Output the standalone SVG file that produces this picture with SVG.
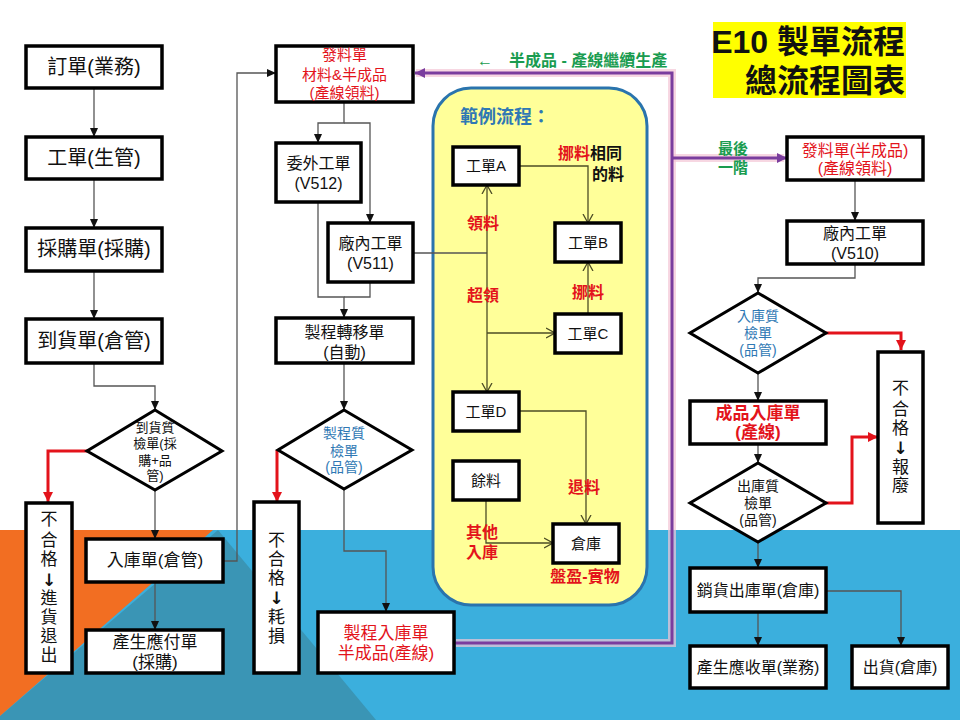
<svg xmlns="http://www.w3.org/2000/svg" width="960" height="720" viewBox="0 0 960 720">
<style>
text{font-family:'Liberation Sans','Noto Sans CJK TC',sans-serif;text-anchor:middle;fill:#111}
.box{fill:#fff;stroke:#000;stroke-width:3.5}
.dia{fill:#fff;stroke:#000;stroke-width:3}
.ybox{fill:#fff;stroke:#000;stroke-width:3.5}
.c{fill:none;stroke:#555;stroke-width:1.3}
.cy{fill:none;stroke:#4d4d26;stroke-width:1.3}
.cr{fill:none;stroke:#e3131b;stroke-width:3}
.cp{fill:none;stroke:#7a3d9e;stroke-width:3}
.glow{fill:none;stroke:#f3c6d6;stroke-width:8;opacity:.7}
.f20{font-size:20px}
.f17{font-size:17px}
.f16{font-size:16px}
.f15{font-size:15px}
.f14{font-size:14px}
.f13{font-size:13px}
.arw{font-size:17px;font-weight:bold;font-family:'DejaVu Sans',sans-serif}
.red{fill:#e3131b}
.blue{fill:#2f78b4}
.green{fill:#1a9c50;font-weight:bold}
.rb{fill:#e3131b;font-weight:bold;font-size:16px}
</style>
<defs>
<marker id="ah" markerWidth="10" markerHeight="10" refX="9" refY="5" orient="auto" markerUnits="userSpaceOnUse"><path d="M0,1 L9,5 L0,9 z" fill="#111"/></marker>
<marker id="ar" markerWidth="12" markerHeight="12" refX="10" refY="6" orient="auto" markerUnits="userSpaceOnUse"><path d="M0,1 L10,6 L0,11 z" fill="#e3131b"/></marker>
<marker id="ap" markerWidth="12" markerHeight="12" refX="10" refY="6" orient="auto" markerUnits="userSpaceOnUse"><path d="M0,1 L10,6 L0,11 z" fill="#7a3d9e"/></marker>
<marker id="ao" markerWidth="10" markerHeight="12" refX="9" refY="6" orient="auto" markerUnits="userSpaceOnUse"><path d="M0,1 L9,6 L0,11" fill="none" stroke="#4d4d26" stroke-width="1.3"/></marker>
</defs>

<!-- background -->
<rect x="0" y="0" width="960" height="720" fill="#fff"/>
<rect x="0" y="530" width="960" height="190" fill="#3bafdd"/>
<polygon points="218,530 376,720 0,720 0,716" fill="#3a95b5"/>
<polygon points="0,530 213,530 0,716" fill="#f26e22"/>

<!-- title -->
<g id="title">
<rect x="713" y="22" width="193" height="76" fill="#ffff00"/>
<text x="905" y="53" style="font-size:32px;font-weight:bold;text-anchor:end">E10 製單流程</text>
<text x="905" y="92" style="font-size:32px;font-weight:bold;text-anchor:end">總流程圖表</text>
</g>

<!-- yellow example area -->
<g id="example">
<rect x="433" y="88" width="214" height="517" rx="38" fill="#ffff99" stroke="#2a74ad" stroke-width="3"/>
<text x="460" y="123" style="font-size:18px;font-weight:bold;text-anchor:start" class="blue">範例流程：</text>
</g>

<!-- connectors -->
<g id="connectors">
<path class="c" d="M94,88 V137" marker-end="url(#ah)"/>
<path class="c" d="M94,179 V228" marker-end="url(#ah)"/>
<path class="c" d="M94,271 V319" marker-end="url(#ah)"/>
<path class="c" d="M94,363 V386 H155 V410" marker-end="url(#ah)"/>
<path class="c" d="M155,490 V539" marker-end="url(#ah)"/>
<path class="c" d="M155,582 V630" marker-end="url(#ah)"/>
<path class="c" d="M223,561 H237 V73 H276" marker-end="url(#ah)"/>
<path class="cr" d="M87,451 H48 V502" marker-end="url(#ar)"/>
<path class="c" d="M344,102 V123 H318 V143" marker-end="url(#ah)"/>
<path class="c" d="M344,123 H370 V223" marker-end="url(#ah)"/>
<path class="c" d="M318,202 V297 H344 V318" marker-end="url(#ah)"/>
<path class="c" d="M370,282 V297 H344"/>
<path class="c" d="M344,363 V410" marker-end="url(#ah)"/>
<path class="cr" d="M277,450 V502" marker-end="url(#ar)"/>
<path class="c" d="M344,489 V551 H386 V612" marker-end="url(#ah)"/>
<path class="c" d="M413,253 H487"/>
<path class="cy" d="M487,253 V185" marker-end="url(#ao)"/>
<path class="cy" d="M487,253 V392" marker-end="url(#ao)"/>
<path class="cy" d="M487,333 H555" marker-end="url(#ao)"/>
<path class="cy" d="M519,166 H588 V223" marker-end="url(#ao)"/>
<path class="cy" d="M588,314 V262" marker-end="url(#ao)"/>
<path class="cy" d="M519,411 H586 V524" marker-end="url(#ao)"/>
<path class="cy" d="M486,500 V543 H553" marker-end="url(#ao)"/>
<path class="c" d="M855,180 V221" marker-end="url(#ah)"/>
<path class="c" d="M855,264 V278 H758 V293" marker-end="url(#ah)"/>
<path class="cr" d="M826,333 H901 V350" marker-end="url(#ar)"/>
<path class="c" d="M758,373 V401" marker-end="url(#ah)"/>
<path class="c" d="M758,444 V463" marker-end="url(#ah)"/>
<path class="cr" d="M826,503 H852 V437 H878" marker-end="url(#ar)"/>
<path class="c" d="M758,542 V568" marker-end="url(#ah)"/>
<path class="c" d="M758,612 V646" marker-end="url(#ah)"/>
<path class="c" d="M826,591 H901 V646" marker-end="url(#ah)"/>
<path class="glow" d="M456,643 H672 V73 H416"/>
<path class="glow" d="M672,158 H784"/>
<path class="cp" d="M454,643 H672 V73 H415" marker-end="url(#ap)"/>
<path class="cp" d="M672,158 H787" marker-end="url(#ap)"/>
<text x="477" y="66" class="green" style="font-size:16px;text-anchor:start">←<tspan dx="16">半成品 - 產線繼續生產</tspan></text>
<text x="733" y="154" class="green f15">最後</text>
<text x="733" y="173" class="green f15">一階</text>
<text x="558" y="159" class="rb" style="text-anchor:start">挪料<tspan style="fill:#111">相同</tspan></text>
<text x="624" y="180" style="font-size:16px;font-weight:bold;text-anchor:end">的料</text>
<text x="483" y="229" class="rb">領料</text>
<text x="483" y="301" class="rb">超領</text>
<text x="588" y="298" class="rb">挪料</text>
<text x="584" y="493" class="rb">退料</text>
<text x="482" y="538" class="rb">其他</text>
<text x="482" y="558" class="rb">入庫</text>
<text x="585" y="582" class="rb">盤盈-實物</text>
</g>

<!-- left column -->
<g id="order"><rect class="box" x="26" y="46" width="136" height="42"/><text x="94" y="74" class="f20">訂單(業務)</text></g>
<g id="workorder"><rect class="box" x="26" y="137" width="136" height="42"/><text x="94" y="165" class="f20">工單(生管)</text></g>
<g id="purchase"><rect class="box" x="26" y="228" width="136" height="43"/><text x="94" y="256" class="f20">採購單(採購)</text></g>
<g id="arrival"><rect class="box" x="26" y="319" width="136" height="44"/><text x="94" y="348" class="f20">到貨單(倉管)</text></g>
<g id="arrivalqc"><polygon class="dia" points="155,410 222,451 155,490 87,451"/>
<text x="155" y="432" class="f13">到貨質</text><text x="155" y="448" class="f13">檢單(採</text><text x="155" y="465" class="f13">購+品</text><text x="155" y="480" class="f13">管)</text></g>
<g id="reject1"><rect class="box" x="26" y="503" width="46" height="170"/>
<text x="49" y="525" class="f17">不</text><text x="49" y="546" class="f17">合</text><text x="49" y="565" class="f17">格</text><text x="49" y="586" class="arw">↓</text><text x="49" y="604" class="f17">進</text><text x="49" y="623" class="f17">貨</text><text x="49" y="642" class="f17">退</text><text x="49" y="661" class="f17">出</text></g>
<g id="stockin"><rect class="box" x="86" y="539" width="137" height="43"/><text x="155" y="566" class="f17">入庫單(倉管)</text></g>
<g id="payable"><rect class="box" x="86" y="630" width="137" height="43"/><text x="155" y="648" class="f17">產生應付單</text><text x="155" y="668" class="f17">(採購)</text></g>

<!-- middle column -->
<g id="issue"><rect class="box" x="276" y="46" width="137" height="56"/>
<text x="344.5" y="60" class="f15 red">發料單</text><text x="344.5" y="80" class="f15 red">材料&amp;半成品</text><text x="344.5" y="98" class="f15 red">(產線領料)</text></g>
<g id="outsource"><rect class="box" x="276" y="143" width="85" height="59"/><text x="318.5" y="169" class="f16">委外工單</text><text x="318.5" y="189" class="f16">(V512)</text></g>
<g id="inhouse"><rect class="box" x="328" y="223" width="85" height="59"/><text x="370.5" y="249" class="f16">廠內工單</text><text x="370.5" y="269" class="f16">(V511)</text></g>
<g id="transfer"><rect class="box" x="276" y="318" width="137" height="45"/><text x="344.5" y="338" class="f16">製程轉移單</text><text x="344.5" y="358" class="f16">(自動)</text></g>
<g id="processqc"><polygon class="dia" points="344,410 412,450 344,489 278,450"/>
<text x="344" y="438" class="f14 blue">製程質</text><text x="344" y="456" class="f14 blue">檢單</text><text x="344" y="472" class="f14 blue">(品管)</text></g>
<g id="reject2"><rect class="box" x="254" y="502" width="45" height="171"/>
<text x="276.5" y="546" class="f17">不</text><text x="276.5" y="565" class="f17">合</text><text x="276.5" y="584" class="f17">格</text><text x="276.5" y="604" class="arw">↓</text><text x="276.5" y="623" class="f17">耗</text><text x="276.5" y="642" class="f17">損</text></g>
<g id="processin"><rect class="box" x="318" y="612" width="136" height="61"/>
<text x="386" y="639" class="f17 red">製程入庫單</text><text x="386" y="659" class="f17 red">半成品(產線)</text></g>

<!-- example nodes -->
<g id="woA"><rect class="ybox" x="453" y="147" width="66" height="38"/><text x="486" y="171" class="f15">工單A</text></g>
<g id="woB"><rect class="ybox" x="555" y="223" width="66" height="39"/><text x="588" y="248" class="f15">工單B</text></g>
<g id="woC"><rect class="ybox" x="555" y="314" width="66" height="39"/><text x="588" y="339" class="f15">工單C</text></g>
<g id="woD"><rect class="ybox" x="453" y="392" width="66" height="39"/><text x="486" y="417" class="f15">工單D</text></g>
<g id="leftover"><rect class="ybox" x="453" y="461" width="66" height="39"/><text x="486" y="486" class="f15">餘料</text></g>
<g id="warehouse"><rect class="ybox" x="553" y="524" width="66" height="39"/><text x="586" y="549" class="f15">倉庫</text></g>

<!-- right column -->
<g id="issue2"><rect class="box" x="787" y="137" width="136" height="43"/>
<text x="855" y="156" class="f16 red">發料單(半成品)</text><text x="855" y="174" class="f16 red">(產線領料)</text></g>
<g id="inhouse2"><rect class="box" x="787" y="221" width="136" height="43"/><text x="855" y="239" class="f16">廠內工單</text><text x="855" y="259" class="f16">(V510)</text></g>
<g id="stockinqc"><polygon class="dia" points="758,293 826,333 758,373 690,333"/>
<text x="758" y="321" class="f14 blue">入庫質</text><text x="758" y="338" class="f14 blue">檢單</text><text x="758" y="355" class="f14 blue">(品管)</text></g>
<g id="reject3"><rect class="box" x="878" y="352" width="45" height="171"/>
<text x="900.5" y="394" class="f17">不</text><text x="900.5" y="415" class="f17">合</text><text x="900.5" y="434" class="f17">格</text><text x="900.5" y="454" class="arw">↓</text><text x="900.5" y="473" class="f17">報</text><text x="900.5" y="491" class="f17">廢</text></g>
<g id="finished"><rect class="box" x="690" y="401" width="136" height="43"/>
<text x="758" y="419" class="f17 red" style="font-weight:bold">成品入庫單</text><text x="758" y="438" class="f17 red" style="font-weight:bold">(產線)</text></g>
<g id="stockoutqc"><polygon class="dia" points="758,463 826,503 758,542 690,503"/>
<text x="758" y="491" class="f14">出庫質</text><text x="758" y="508" class="f14">檢單</text><text x="758" y="525" class="f14">(品管)</text></g>
<g id="salesout"><rect class="box" x="690" y="568" width="136" height="44"/><text x="758" y="596" class="f16">銷貨出庫單(倉庫)</text></g>
<g id="receivable"><rect class="box" x="690" y="646" width="136" height="42"/><text x="758" y="673" class="f16">產生應收單(業務)</text></g>
<g id="ship"><rect class="box" x="852" y="646" width="96" height="42"/><text x="900" y="673" class="f16">出貨(倉庫)</text></g>
</svg>
